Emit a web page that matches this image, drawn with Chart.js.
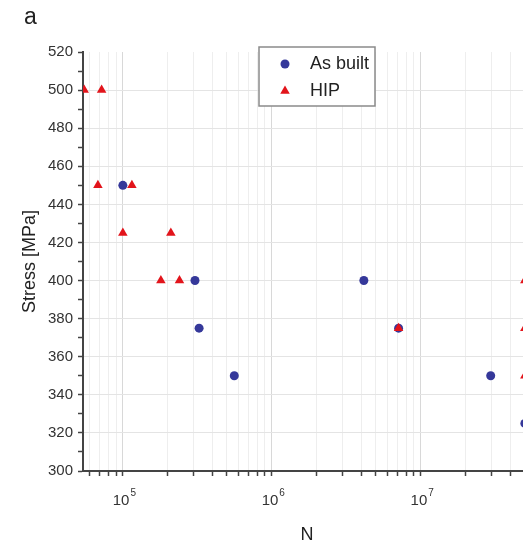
<!DOCTYPE html>
<html>
<head>
<meta charset="utf-8">
<script src="https://cdn.jsdelivr.net/npm/chart.js@4"></script>
<style>
    html, body { margin: 0; padding: 0; background: #fff; overflow: hidden; }
    #wrap { position: relative; width: 523px; height: 550px; overflow: hidden; }
    #wrap canvas { position: absolute; left: 0; top: 0; }
    #panel { position: absolute; left: 24px; top: 3px; font: 23px "Liberation Sans", Arial, sans-serif; color: #222; }
</style>
</head>
<body>
<div id="wrap">
    <canvas id="snChart" width="540" height="550" style="width:540px;height:550px"></canvas>
    <div id="panel">a</div>
</div>
<script>
// S-N data
const asBuiltN = [1.0e5, 3.05e5, 3.25e5, 5.6e5, 4.15e6, 7.1e6, 2.95e7, 5.0e7];
const asBuiltStress = [450, 400, 375, 350, 400, 375, 350, 325];
const hipN = [5.5e4, 7.2e4, 6.8e4, 1.15e5, 1.0e5, 2.1e5, 1.8e5, 2.4e5, 7.1e6, 5.0e7, 5.0e7, 5.0e7];
const hipStress = [500, 500, 450, 450, 425, 425, 400, 400, 375, 400, 375, 350];

// axis ticks: decades get a label "10" with a raised exponent
const majorTicks = [1e5, 1e6, 1e7];
const majorExponents = ['5', '6', '7'];
const xTickValues = [];
for (const decade of [1e4, 1e5, 1e6, 1e7]) {
    for (let m = 1; m <= 9; m++) xTickValues.push(m * decade);
}

const font = "'Liberation Sans', Arial, sans-serif";

function toPoints(xs, ys) {
    return xs.map((x, i) => ({ x: x, y: ys[i] }));
}

// power-of-ten labels with a real superscript
const powerLabels = {
    id: 'powerLabels',
    afterDraw(chart) {
        const ctx = chart.ctx;
        const xs = chart.scales.x;
        ctx.save();
        ctx.fillStyle = '#333';
        ctx.textBaseline = 'alphabetic';
        majorTicks.forEach((v, i) => {
            let px = xs.getPixelForValue(v);
            ctx.font = '15px ' + font;
            let wBase = ctx.measureText('10').width;
            ctx.font = '10px ' + font;
            let wExp = ctx.measureText(majorExponents[i]).width;
            let left = px - (wBase + wExp) / 2 + 1;
            ctx.font = '15px ' + font;
            ctx.fillText('10', left, xs.top + 34);
            ctx.font = '10px ' + font;
            ctx.fillText(majorExponents[i], left + wBase + 1, xs.top + 25);
        });
        ctx.restore();
    }
};

// legend box drawn inside the plot
const boxLegend = {
    id: 'boxLegend',
    afterDraw(chart) {
        const ctx = chart.ctx;
        ctx.save();
        ctx.fillStyle = '#fff';
        ctx.fillRect(259, 47, 116, 59);
        ctx.strokeStyle = '#8a8a8a';
        ctx.lineWidth = 1.5;
        ctx.strokeRect(259, 47, 116, 59);
        ctx.font = '18px ' + font;
        ctx.textBaseline = 'middle';
        chart.data.datasets.forEach((ds, i) => {
            let y = 64 + i * 27;
            ctx.fillStyle = ds.backgroundColor;
            Chart.helpers.drawPoint(ctx, {
                pointStyle: ds.pointStyle, radius: ds.pointRadius, rotation: 0, borderWidth: 0
            }, 285, y);
            ctx.fillStyle = '#222';
            ctx.fillText(ds.label, 310, y);
        });
        ctx.restore();
    }
};

let ctxSN = document.getElementById('snChart').getContext('2d');
let snChart = new Chart(ctxSN, {
    type: 'scatter',
    data: {
        datasets: [{
            label: 'As built',
            data: toPoints(asBuiltN, asBuiltStress),
            pointStyle: 'circle',
            pointRadius: 4.5,
            backgroundColor: '#35389a',
            borderWidth: 0,
            order: 2
        }, {
            label: 'HIP',
            data: toPoints(hipN, hipStress),
            pointStyle: 'triangle',
            pointRadius: 5.5,
            backgroundColor: '#e2141b',
            borderWidth: 0,
            order: 1
        }]
    },
    options: {
        responsive: false,
        animation: false,
        layout: { padding: { top: 52, right: 9, left: 0, bottom: 0 } },
        plugins: {
            legend: { display: false },
            tooltip: { enabled: false }
        },
        scales: {
            x: {
                type: 'logarithmic',
                min: 5.4e4,
                max: 5.5e7,
                afterBuildTicks: (scale) => {
                    scale.ticks = xTickValues
                        .filter(v => v >= scale.min && v <= scale.max)
                        .map(v => ({ value: v }));
                },
                afterFit: (scale) => { scale.height = 79; },
                border: { color: '#444', width: 2 },
                grid: {
                    color: (c) => majorTicks.includes(c.tick.value) ? '#d8d8d8' : '#eeeeee',
                    tickColor: '#444',
                    tickLength: 5,
                    tickWidth: 1.5
                },
                ticks: {
                    autoSkip: false,
                    maxRotation: 0,
                    callback: () => ''
                },
                title: {
                    display: true,
                    text: 'N',
                    color: '#222',
                    font: { family: font, size: 18 },
                    padding: { top: 0, bottom: 4 }
                }
            },
            y: {
                min: 300,
                max: 520,
                afterFit: (scale) => { scale.width = 83; },
                border: { color: '#444', width: 2 },
                grid: {
                    color: (c) => (c.tick.value % 20 === 0 && c.tick.value !== 520) ? '#e4e4e4' : 'rgba(0,0,0,0)',
                    tickColor: '#444',
                    tickLength: 5,
                    tickWidth: 1.5
                },
                ticks: {
                    stepSize: 10,
                    autoSkip: false,
                    padding: 5,
                    color: '#333',
                    font: { family: font, size: 15 },
                    callback: (value) => value % 20 === 0 ? String(value) : ''
                },
                title: {
                    display: true,
                    text: 'Stress [MPa]',
                    color: '#222',
                    font: { family: font, size: 18 },
                    padding: { top: 19, bottom: 0 }
                }
            }
        }
    },
    plugins: [powerLabels, boxLegend]
});
</script>
</body>
</html>
